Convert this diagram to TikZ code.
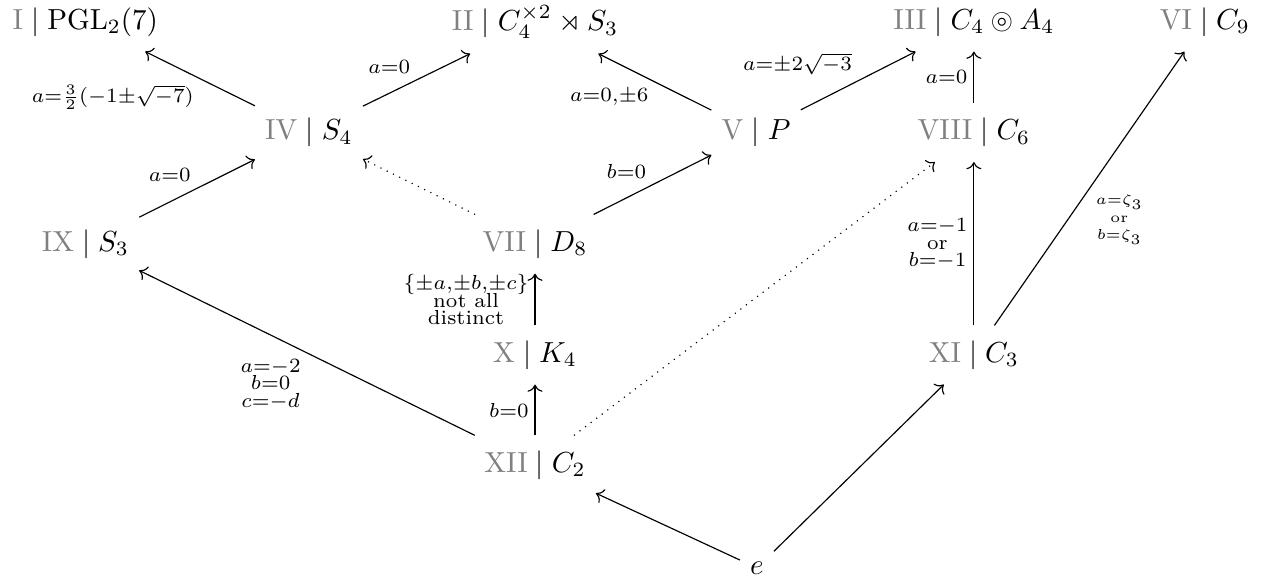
\documentclass[tikz,border=0pt]{standalone}
\usepackage{amsmath, amssymb}
\usepackage{tikz}
\usetikzlibrary{positioning,arrows.meta}
\usepackage{xcolor}
\definecolor{NumGray}{RGB}{128,128,128}
\newcommand{\grp}[2]{$\textcolor{NumGray}{\mathrm{#1}}\mid #2$}

\begin{document}
\begin{tikzpicture}[
    on grid,
    every node/.style={inner ysep=5pt},
    lbl/.style={font=\scriptsize, inner sep=2pt},
    stack/.style={font=\scriptsize, inner sep=2pt, align=center},
    arr/.style={-{To}},
    weak/.style={-{To}, dotted},
]
\useasboundingbox (-6.485,-1.418) rectangle (8.812,5.636);

\node (xii) {\grp{XII}{C_2}};
\node[above=1.333cm of xii] (x) {\grp{X}{K_4}};
\node[above=1.345cm of x] (vii) {\grp{VII}{D_8}};
\node[left=5.45cm of vii] (ix) {\grp{IX}{S_3}};
\node[above right=1.352cm and 2.71cm of ix] (iv) {\grp{IV}{S_4}};
\node[above right=1.352cm and 2.68cm of vii] (v) {\grp{V}{P}};
\node[right=2.64cm of v] (viii) {\grp{VIII}{C_6}};
\node[below=2.697cm of viii] (xi) {\grp{XI}{C_3}};
\node[above=2.691cm of vii] (ii) {\grp{II}{C_4^{\times 2}\rtimes S_3}};
\node[left=5.45cm of ii] (i) {\grp{I}{\mathrm{PGL}_2(7)}};
\node[above=1.339cm of viii] (iii) {\grp{III}{C_4\circledcirc A_4}};
\node[right=2.80cm of iii] (vi) {\grp{VI}{C_9}};
\node[below right=1.248cm and 2.69cm of xii] (e) {$e$};

\draw[arr] (iv) -- node[lbl, below left] {$a{=}\frac{3}{2}(-1{\pm}\sqrt{-7})$} (i);
\draw[arr] (iv) -- node[lbl, above left] {$a{=}0$} (ii);
\draw[arr] (v) -- node[lbl, below left] {$a{=}0{,}{\pm}6$} (ii);
\draw[arr] (v) -- node[lbl, above left] {$a{=}{\pm}2\sqrt{-3}$} (iii);
\draw[arr] (viii) -- node[lbl, left] {$a{=}0$} (iii);
\draw[arr] (ix) -- node[lbl, above left] {$a{=}0$} (iv);
\draw[weak] (vii) -- (iv);
\draw[arr] (vii) -- node[lbl, above left] {$b{=}0$} (v);
\draw[arr] (x) -- node[stack, left] {$\{{\pm}a{,}{\pm}b{,}{\pm}c\}$\\[-2pt]not all\\[-2pt]distinct} (vii);
\draw[arr] (xii) -- node[lbl, left] {$b{=}0$} (x);
\draw[arr] (xii) -- node[stack, below left] {$a{=}{-}2$\\[-2pt]$b{=}0$\\[-2pt]$c{=}{-}d$} (ix);
\draw[weak] (xii) -- (viii);
\draw[arr] (xi) -- node[stack, left] {$a{=}{-}1$\\[-2pt]or\\[-2pt]$b{=}{-}1$} (viii);
\draw[arr] (xi) -- node[stack, font=\tiny, below right] {$a{=}\zeta_3$\\or\\$b{=}\zeta_3$} (vi);
\draw[arr] (e) -- (xii);
\draw[arr] (e) -- (xi);
\end{tikzpicture}
\end{document}
